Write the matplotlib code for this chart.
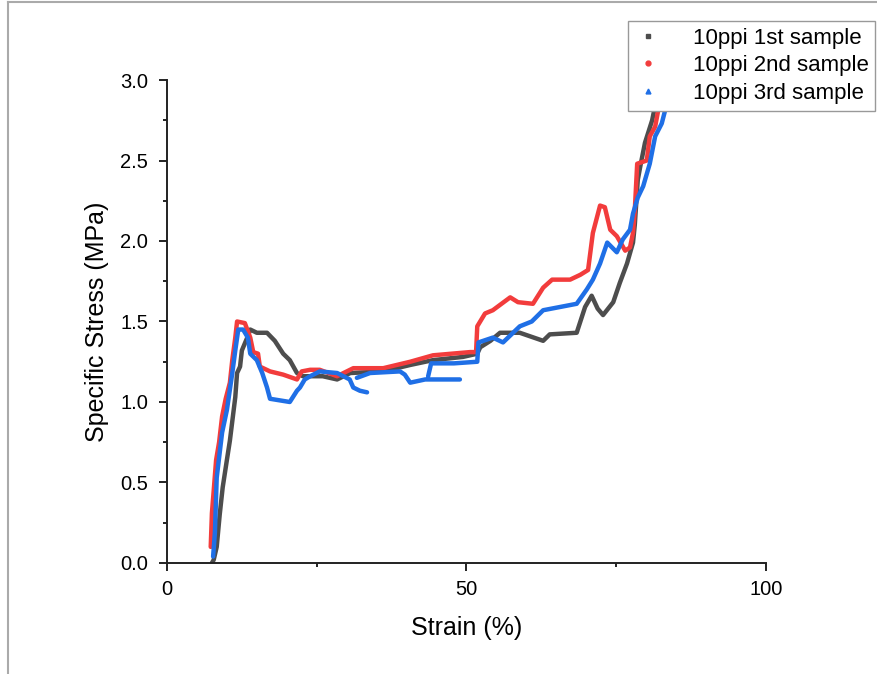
import numpy as np
import matplotlib
matplotlib.use("Agg")
import matplotlib.pyplot as plt
from matplotlib.lines import Line2D
from matplotlib.ticker import MultipleLocator, FormatStrFormatter

plt.rcParams['font.family'] = ['Liberation Sans', 'DejaVu Sans']

labels = ["10ppi 1st sample", "10ppi 2nd sample", "10ppi 3rd sample"]
colors = ["#4d4d4d", "#f23c3c", "#1f6fe6"]
markers = ["s", "o", "^"]

# 1st sample (strain %, specific stress MPa)
s1_x = [7.5, 7.8, 8.3, 8.8, 9.3, 10.0, 10.5, 11.0, 11.4, 11.7, 12.2, 12.5, 13.4, 13.9,
        15.0, 16.7, 18.0, 19.4, 20.5, 21.7, 22.7, 26.0, 28.4, 30.6, 36.1, 40.6, 44.4,
        49.4, 51.8, 52.3, 54.0, 55.6, 58.9, 62.8, 63.9, 68.4, 69.8, 70.9, 71.9, 72.8,
        74.5, 75.6, 76.8, 77.8, 78.1, 78.6, 79.0, 79.8, 81.0, 81.6, 82.3, 83.1]
s1_y = [0.0, 0.02, 0.1, 0.3, 0.47, 0.64, 0.76, 0.91, 1.03, 1.18, 1.22, 1.32, 1.40, 1.45,
        1.43, 1.43, 1.38, 1.30, 1.26, 1.18, 1.16, 1.16, 1.14, 1.18, 1.19, 1.23, 1.26,
        1.28, 1.30, 1.34, 1.38, 1.43, 1.43, 1.38, 1.42, 1.43, 1.59, 1.66, 1.58, 1.54,
        1.62, 1.74, 1.86, 1.99, 2.10, 2.38, 2.46, 2.61, 2.75, 2.86, 3.0, 3.1]

# 2nd sample
s2_x = [7.3, 7.5, 7.8, 8.2, 8.7, 9.2, 9.8, 10.5, 10.9, 11.4, 11.7, 13.0, 13.9, 14.4,
        15.2, 15.5, 17.2, 19.4, 21.7, 22.5, 23.9, 25.5, 28.4, 31.1, 36.1, 40.6, 44.4,
        50.6, 51.6, 51.8, 53.1, 54.4, 57.3, 58.6, 61.1, 62.8, 64.3, 67.3, 69.0, 70.3,
        71.1, 72.3, 73.1, 74.0, 75.1, 76.5, 77.3, 77.8, 78.1, 78.5, 80.1, 80.6, 81.5,
        82.0, 82.8, 83.6]
s2_y = [0.1, 0.31, 0.45, 0.64, 0.75, 0.91, 1.02, 1.12, 1.26, 1.40, 1.50, 1.49, 1.40, 1.31,
        1.30, 1.22, 1.19, 1.17, 1.14, 1.19, 1.20, 1.20, 1.16, 1.21, 1.21, 1.25, 1.29,
        1.31, 1.31, 1.47, 1.55, 1.57, 1.65, 1.62, 1.61, 1.71, 1.76, 1.76, 1.79, 1.82,
        2.05, 2.22, 2.21, 2.07, 2.03, 1.94, 1.96, 2.05, 2.19, 2.48, 2.50, 2.65, 2.71,
        2.81, 2.92, 3.05]

# 3rd sample (NaN separates recorded segments)
s3_x = [7.7, 8.0, 8.3, 9.2, 10.0, 10.9, 11.4, 11.9, 12.7, 13.5, 13.9, 15.0, 15.9, 16.7,
        17.2, 20.5, 21.7, 22.2, 23.0, 23.9, 25.5, 28.4, 30.5, 31.1, 32.2, 33.4, np.nan,
        31.7, 33.9, 38.9, 39.7, 40.6, 43.1, 44.4, 48.9, np.nan,
        43.6, 44.1, 47.9, 51.8, 52.0, 54.4, 56.1, 58.9, 60.9, 62.8, 65.6, 68.4, 70.1,
        71.1, 72.3, 73.5, 75.1, 76.1, 77.3, 77.8, 78.6, 79.5, 80.6, 81.5, 82.6, 83.5, 84.2]
s3_y = [0.04, 0.19, 0.53, 0.81, 0.95, 1.18, 1.32, 1.45, 1.45, 1.40, 1.30, 1.26, 1.18, 1.09,
        1.02, 1.00, 1.07, 1.09, 1.14, 1.16, 1.19, 1.18, 1.14, 1.09, 1.07, 1.06, np.nan,
        1.15, 1.18, 1.19, 1.17, 1.12, 1.14, 1.14, 1.14, np.nan,
        1.16, 1.24, 1.24, 1.25, 1.37, 1.40, 1.37, 1.47, 1.50, 1.57, 1.59, 1.61, 1.70,
        1.76, 1.86, 1.99, 1.93, 2.01, 2.07, 2.17, 2.27, 2.34, 2.48, 2.65, 2.73, 2.86, 3.0]

series = [(s1_x, s1_y), (s2_x, s2_y), (s3_x, s3_y)]

fig = plt.figure(figsize=(8.78, 6.74), dpi=100)
ax = fig.add_axes([0.1902, 0.1647, 0.6822, 0.7166])

for (xs, ys), c in zip(series, colors):
    ax.plot(xs, ys, color=c, lw=3.2, solid_joinstyle='round', solid_capstyle='round')

ax.set_xlim(0, 100)
ax.set_ylim(0, 3.0)
ax.xaxis.set_major_locator(MultipleLocator(50))
ax.xaxis.set_minor_locator(MultipleLocator(25))
ax.yaxis.set_major_locator(MultipleLocator(0.5))
ax.yaxis.set_minor_locator(MultipleLocator(0.25))
ax.yaxis.set_major_formatter(FormatStrFormatter('%.1f'))
for s in ['top', 'right']:
    ax.spines[s].set_visible(False)
for s in ['left', 'bottom']:
    ax.spines[s].set_linewidth(1.4)
    ax.spines[s].set_color('#222222')
ax.tick_params(which='major', direction='out', length=5.5, width=1.4, labelsize=14.5,
               color='#222222')
ax.tick_params(axis='y', which='major', pad=8)
ax.tick_params(axis='x', which='major', pad=7)
ax.tick_params(which='minor', direction='out', length=2.8, width=1.4, color='#222222')
ax.set_xlabel("Strain (%)", fontsize=18, labelpad=12)
ax.set_ylabel("Specific Stress (MPa)", fontsize=18, labelpad=8)

handles = [Line2D([], [], ls='none', marker=m, color=c, markersize=3.5)
           for m, c in zip(markers, colors)]
leg = fig.legend(handles, labels, loc='upper right', bbox_to_anchor=(0.997, 0.969),
                 fontsize=16, frameon=True, fancybox=False, framealpha=1,
                 edgecolor='#999999', handlelength=1.2, handletextpad=1.4,
                 borderpad=0.3, labelspacing=0.3, borderaxespad=0)
leg.get_frame().set_linewidth(1.0)

# outer page border (left and top)
fig.add_artist(Line2D([8/878, 8/878], [0, 1 - 2/674], transform=fig.transFigure,
                      color='#aaaaaa', lw=1.5))
fig.add_artist(Line2D([8/878, 1], [1 - 2/674, 1 - 2/674], transform=fig.transFigure,
                      color='#aaaaaa', lw=1.5))

fig.savefig("out.png", dpi=100)
